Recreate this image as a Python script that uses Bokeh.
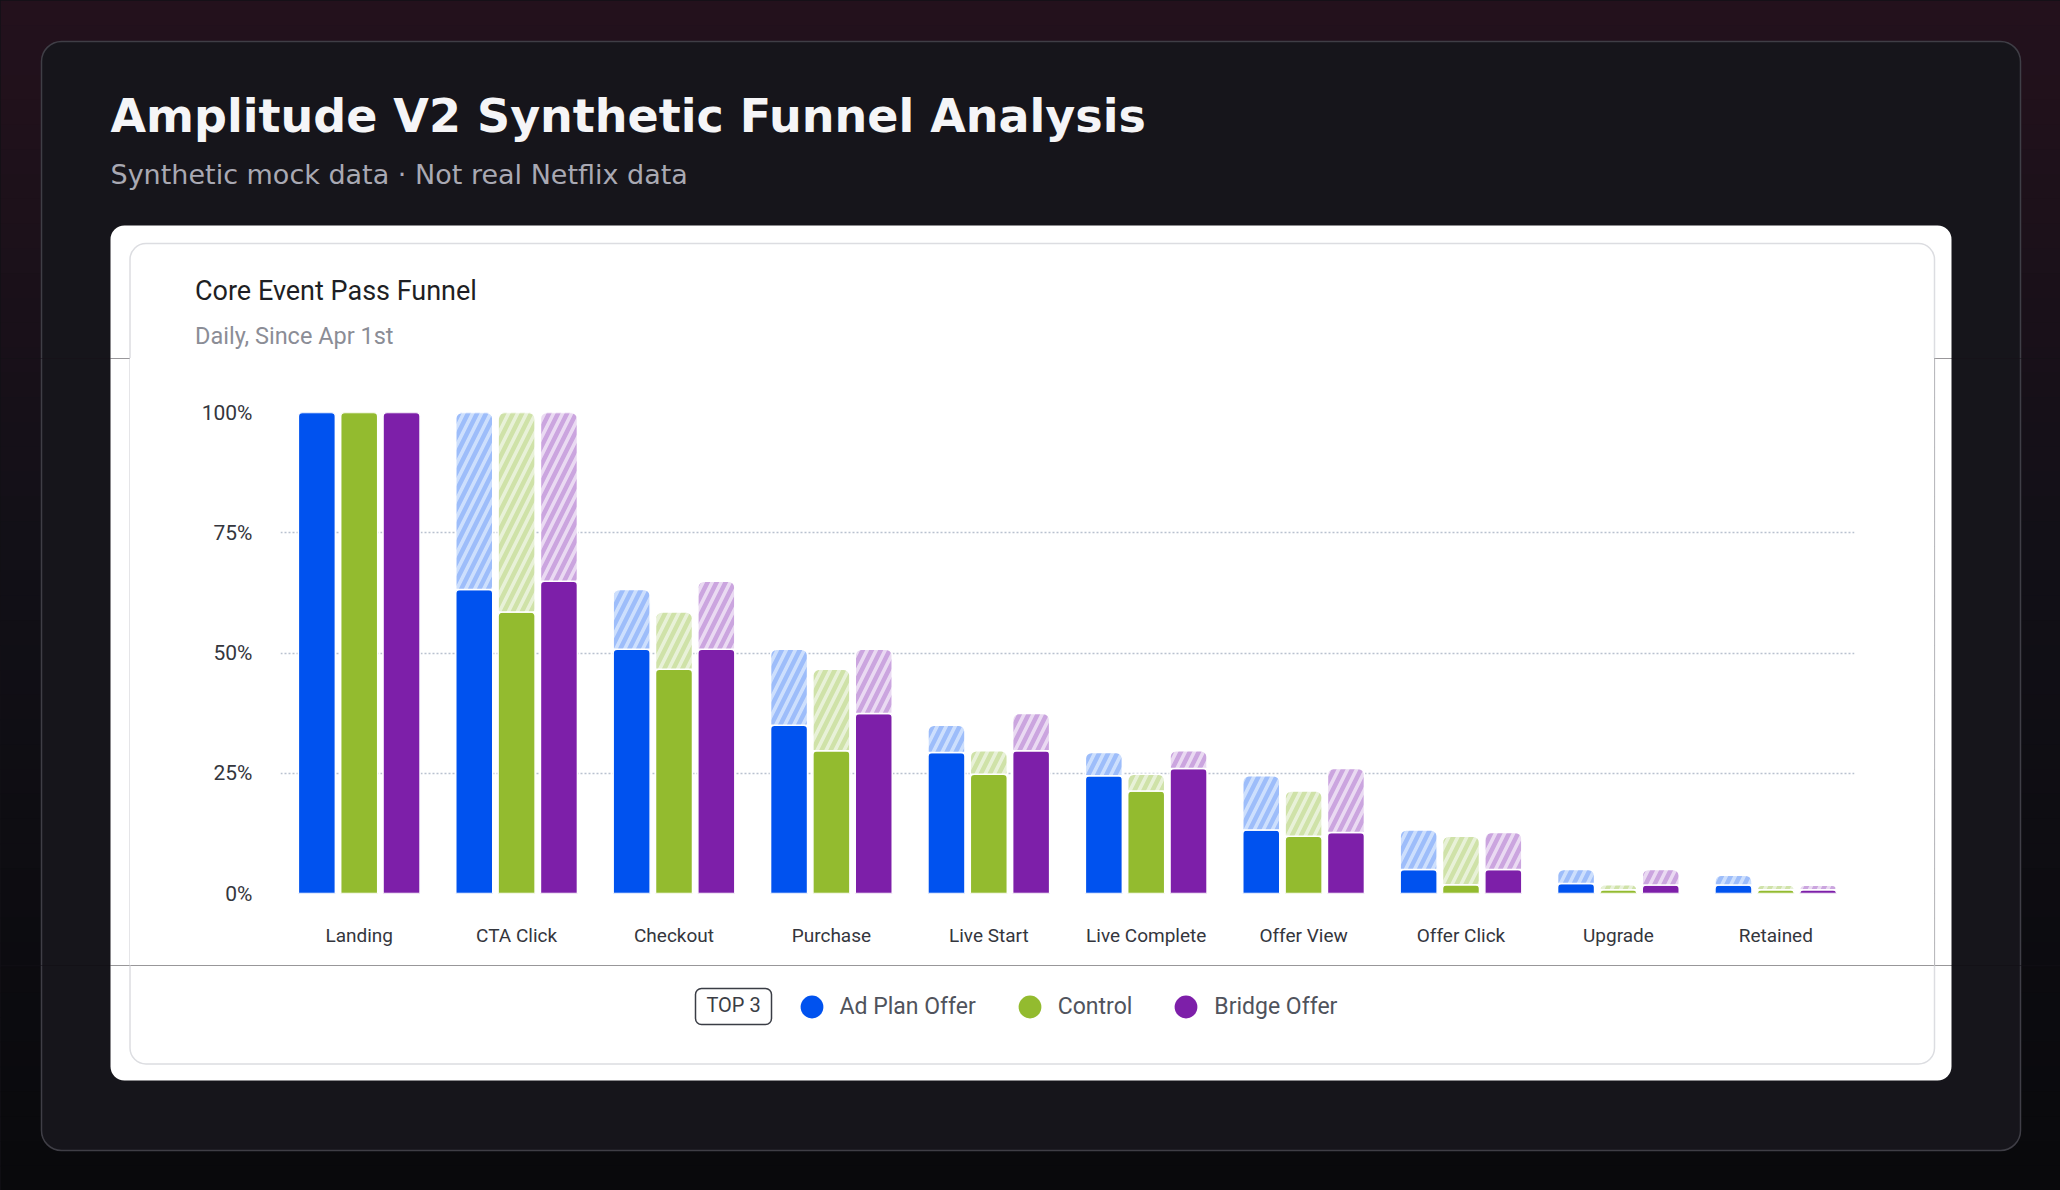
from bokeh.plotting import figure
from bokeh.models import (ColumnDataSource, FactorRange, Range1d, Legend, LegendItem,
                          FixedTicker, PrintfTickFormatter, Row, Column)
from bokeh.transform import dodge
from bokeh.core.properties import value
from bokeh.embed import file_html
from bokeh.resources import INLINE

# ---------------- data ----------------
categories = ["Landing", "CTA Click", "Checkout", "Purchase", "Live Start",
              "Live Complete", "Offer View", "Offer Click", "Upgrade", "Retained"]
series_names = ["Ad Plan Offer", "Control", "Bridge Offer"]

# converted share (solid part), %
ad_plan_offer = [100, 63.2, 50.8, 35.0, 29.3, 24.5, 13.2, 5.0, 2.1, 1.75]
control = [100, 58.5, 46.6, 29.7, 24.8, 21.3, 11.9, 1.8, 0.8, 0.8]
bridge_offer = [100, 64.9, 50.8, 37.4, 29.7, 26.0, 12.7, 5.0, 1.75, 0.8]

# previous-step share (top of the hatched drop-off part), %
ad_plan_offer_prev = [100, 100, 63.2, 50.8, 35.0, 29.3, 24.5, 13.2, 5.0, 3.8]
control_prev = [100, 100, 58.5, 46.6, 29.7, 24.8, 21.3, 11.9, 1.8, 1.7]
bridge_offer_prev = [100, 100, 64.9, 50.8, 37.4, 29.7, 26.0, 12.7, 5.0, 1.7]

y_ticks = [0, 25, 50, 75, 100]

page_title = "Amplitude V2 Synthetic Funnel Analysis"
page_subtitle = "Synthetic mock data · Not real Netflix data"
chart_title = "Core Event Pass Funnel"
chart_subtitle = "Daily, Since Apr 1st"
legend_tag = "TOP 3"

# ---------------- page geometry (pixels) ----------------
W, H = 2060, 1190
Y_HEAD, Y_FOOT = 358, 965          # horizontal cuts of the page
X_LEFT, X_RIGHT = 130, 1934        # vertical cuts of the middle band (on the inner border)
FL, FR, FT, FB = 280, 1854, 412, 893   # plot frame of the chart
PAGE_BG = "#121017"
CARD_BG = "#16151b"

# background behind the layout boxes (seen only through sub-pixel seams)
ROW_BG = (f"linear-gradient(to right, {PAGE_BG} 0px, {PAGE_BG} 41px, {CARD_BG} 41px, "
          f"{CARD_BG} 110px, #ffffff 110px, #ffffff 1951px, {CARD_BG} 1951px, "
          f"{CARD_BG} 2020px, {PAGE_BG} 2020px)")
COL_BG = (f"linear-gradient(to bottom, {PAGE_BG} 0px, {PAGE_BG} 225px, transparent 225px, "
          f"transparent 1080px, {PAGE_BG} 1080px), " + ROW_BG)


def mix(c1, c2, t):
    a = [int(c1[i:i + 2], 16) for i in (1, 3, 5)]
    b = [int(c2[i:i + 2], 16) for i in (1, 3, 5)]
    return "#" + "".join(f"{round(a[k] + (b[k] - a[k]) * t):02x}" for k in range(3))


N = 48
grad_top = [H * i / N for i in range(N)]
grad_bot = [H * (i + 1) / N + 1 for i in range(N)]
grad_col = []
for i in range(N):
    t = i / (N - 1)
    grad_col.append(mix("#23111c", "#121017", t / 0.45) if t < 0.45
                    else mix("#121017", "#09090c", (t - 0.45) / 0.55))


def piece(x0, x1, y0, y1):
    f = figure(width=x1 - x0, height=y1 - y0, x_range=Range1d(x0, x1),
               y_range=Range1d(y1, y0), output_backend="svg", toolbar_location=None,
               min_border=0, frame_align=False)
    f.axis.visible = False
    f.grid.visible = False
    f.outline_line_color = None
    f.background_fill_color = PAGE_BG
    f.border_fill_color = PAGE_BG
    f.quad(left=0, right=W, top=grad_top, bottom=grad_bot, fill_color=grad_col,
           line_color=None)
    # dark card
    f.quad(left=41, right=2020, top=41, bottom=1150, fill_color=CARD_BG,
           line_color="#3f3e46", line_width=1.5, border_radius=20)
    # white card
    f.quad(left=110, right=1951, top=225, bottom=1080, fill_color="#ffffff",
           line_color=None, border_radius=14)
    # inner border of the chart panel
    f.quad(left=129.5, right=1934, top=243, bottom=1063.5, fill_color=None,
           line_color="#dcdde1", line_width=1.5, border_radius=16)
    return f


# ---------------- header ----------------
head = piece(0, W, 0, Y_HEAD)
head.text(x=[110], y=[115.4], text=[page_title], text_font=value("DejaVu Sans"),
          text_font_style="bold", text_font_size="46px", text_color="#f5f5f7",
          text_baseline="middle")
head.text(x=[110], y=[173.8], text=[page_subtitle], text_font=value("DejaVu Sans"),
          text_font_size="27px", text_color="#a9a9b3", text_baseline="middle")
head.text(x=[194.5], y=[290], text=[chart_title], text_font=value("Roboto"),
          text_font_size="27px", text_color="#1e1f24", text_baseline="middle")
head.text(x=[194.5], y=[335.8], text=[chart_subtitle], text_font=value("Roboto"),
          text_font_size="23.5px", text_color="#8b8d96", text_baseline="middle")

left = piece(0, X_LEFT, Y_HEAD, Y_FOOT)
right = piece(X_RIGHT, W, Y_HEAD, Y_FOOT)

# ---------------- chart ----------------
p = figure(width=X_RIGHT - X_LEFT, height=Y_FOOT - Y_HEAD,
           x_range=FactorRange(factors=categories), y_range=Range1d(0, 100),
           output_backend="svg", toolbar_location=None, frame_align=False,
           min_border_left=FL - X_LEFT, min_border_right=X_RIGHT - FR,
           min_border_top=FT - Y_HEAD, min_border_bottom=Y_FOOT - FB)
p.border_fill_color = "#ffffff"
p.background_fill_color = "#ffffff"
p.outline_line_color = None

p.yaxis.ticker = FixedTicker(ticks=y_ticks)
p.yaxis.formatter = PrintfTickFormatter(format="%d%%")
p.ygrid.ticker = FixedTicker(ticks=y_ticks)
p.ygrid.grid_line_color = "#b9c1cf"
p.ygrid.grid_line_dash = "2 2"
p.ygrid.grid_line_width = 1.5
p.xgrid.visible = False
for ax in (p.xaxis, p.yaxis):
    ax.axis_line_color = None
    ax.major_tick_line_color = None
    ax.minor_tick_line_color = None
    ax.major_tick_out = 0
    ax.major_tick_in = 0
    ax.minor_tick_out = 0
    ax.major_label_text_font = "Roboto"
    ax.major_label_text_color = "#34363d"
p.xaxis.major_label_text_font_size = "19px"
p.yaxis.major_label_text_font_size = "21px"
p.yaxis.major_label_standoff = 28
p.xaxis.major_label_standoff = 30

solid_colors = ["#0052ef", "#93bb2f", "#7d1fa9"]
light_colors = ["#cddffd", "#e8f1d8", "#eadaf2"]
stripe_colors = ["#9dbdfa", "#cfe2a8", "#cba5df"]
offsets = [-0.269, 0.0, 0.269]
BAR_W = 0.235

for vals, prev, c, lc, sc, off in zip([ad_plan_offer, control, bridge_offer],
                                      [ad_plan_offer_prev, control_prev, bridge_offer_prev],
                                      solid_colors, light_colors, stripe_colors, offsets):
    src = ColumnDataSource(dict(cat=categories, top=vals))
    p.vbar(x=dodge("cat", off, range=p.x_range), top="top", bottom=0, width=BAR_W, source=src,
           fill_color=c, line_color="white", line_width=1.5, border_radius=(4, 4, 0, 0))
    keep = [i for i in range(len(categories)) if prev[i] > vals[i]]
    hsrc = ColumnDataSource(dict(cat=[categories[i] for i in keep],
                                 bottom=[vals[i] for i in keep],
                                 top=[prev[i] for i in keep]))
    p.vbar(x=dodge("cat", off, range=p.x_range), top="top", bottom="bottom", width=BAR_W,
           source=hsrc, fill_color=lc, hatch_pattern="right_diagonal_line", hatch_color=sc,
           hatch_scale=18, hatch_weight=4.5, line_color="white", line_width=1.5,
           border_radius=(6, 6, 0, 0))

# ---------------- footer with legend ----------------
foot = piece(0, W, Y_FOOT, H)
foot.quad(left=695, right=771, top=988, bottom=1024, fill_color=None,
          line_color="#3a3d45", line_width=1.5, border_radius=6)
foot.text(x=[733], y=[1004], text=[legend_tag], text_font=value("Roboto"),
          text_font_size="20px", text_color="#3a3d45", text_align="center",
          text_baseline="middle")
items = []
for name, c in zip(series_names, solid_colors):
    # legend proxy: a single point kept outside the visible page
    r = foot.scatter(x=[-100], y=[-100], marker="circle", size=23, fill_color=c,
                     line_color=None)
    items.append(LegendItem(label=name, renderers=[r]))
legend = Legend(items=items, orientation="horizontal", location=(782.5, H - 1035.2),
                glyph_width=57, glyph_height=57, label_standoff=0, spacing=25,
                padding=0, margin=0, label_text_font="Roboto",
                label_text_font_size="23px", label_text_color="#50535c",
                background_fill_alpha=0, border_line_color=None)
foot.add_layout(legend)

middle = Row(children=[left, p, right], spacing=0, styles={"background": ROW_BG})
layout = Column(children=[head, middle, foot], spacing=0, styles={"background": COL_BG})
open("out.html", "w").write(file_html(layout, INLINE))
